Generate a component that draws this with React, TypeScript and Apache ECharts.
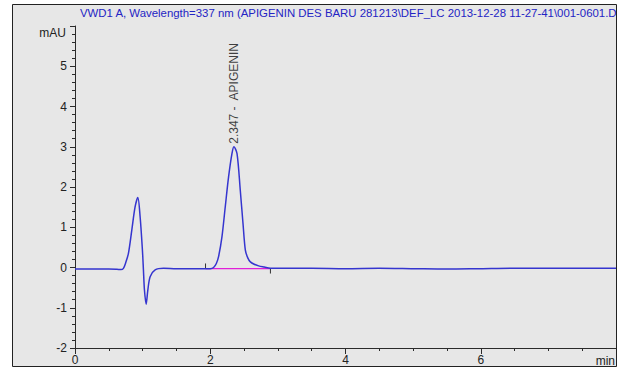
import React, { useEffect, useRef } from "react";
import * as echarts from "echarts";

const titleText =
  "VWD1 A, Wavelength=337 nm (APIGENIN DES BARU 281213\\DEF_LC 2013-12-28 11-27-41\\001-0601.D";
const yUnit = "mAU";
const xUnit = "min";

// retention time (min)
const times = [
  0, 0.25, 0.5, 0.62, 0.68, 0.716, 0.75, 0.79, 0.84, 0.889, 0.929, 0.963, 0.997, 1.012, 1.027,
  1.052, 1.077, 1.111, 1.185, 1.31, 1.5, 1.75, 1.93, 2.0, 2.049, 2.09, 2.123, 2.173, 2.222, 2.271,
  2.321, 2.35, 2.396, 2.444, 2.484, 2.519, 2.555, 2.593, 2.65, 2.716, 2.8, 2.889, 3.0, 3.5, 4.0,
  4.5, 5.0, 5.5, 6.0, 6.5, 7.0, 7.5, 8.0,
];
// detector signal (mAU)
const signal = [
  -0.04, -0.04, -0.04, -0.045, -0.05, -0.02, 0.12, 0.35, 0.93, 1.51, 1.74, 1.26, 0.43, -0.06, -0.56,
  -0.91, -0.56, -0.23, -0.06, -0.02, -0.03, -0.03, -0.03, -0.03, 0.0, 0.1, 0.27, 0.76, 1.51, 2.25,
  2.83, 3.0, 2.83, 1.92, 1.1, 0.43, 0.24, 0.14, 0.08, 0.04, 0.01, -0.02, -0.02, -0.02, -0.03,
  -0.02, -0.03, -0.04, -0.03, -0.02, -0.02, -0.02, -0.02,
];

// integration baseline of the peak
const integStart = 1.93;
const integEnd = 2.89;
const integLevel = -0.03;

// peak annotation
const peakTime = 2.347;
const peakHeight = 3.0;
const peakName = "APIGENIN";

const xMin = 0;
const xMax = 8;
const xInterval = 2;
const yMin = -2;
const yMax = 6;
const yInterval = 1;

export default function App() {
  const ref = useRef<HTMLDivElement>(null);
  useEffect(() => {
    if (!ref.current) return;
    const chart = echarts.init(ref.current, undefined, { renderer: "svg" });
    const font = "Liberation Sans, Arial, sans-serif";
    const axisColor = "#2b2b2b";
    chart.setOption({
      animation: false,
      grid: { left: 75, right: 5, top: 26, bottom: 21, containLabel: false },
      xAxis: {
        type: "value",
        min: xMin,
        max: xMax,
        interval: xInterval,
        axisLine: { show: true, onZero: false, lineStyle: { color: axisColor, width: 1 } },
        axisTick: { show: true, length: 6, lineStyle: { color: axisColor } },
        minorTick: { show: true, splitNumber: 4, length: 3, lineStyle: { color: axisColor } },
        splitLine: { show: false },
        axisLabel: {
          margin: 6,
          color: "#222",
          fontFamily: font,
          fontSize: 12,
          formatter: (v: number) => (v === xMax ? "" : String(v)),
        },
      },
      yAxis: {
        type: "value",
        min: yMin,
        max: yMax,
        interval: yInterval,
        axisLine: { show: true, onZero: false, lineStyle: { color: axisColor, width: 1 } },
        axisTick: { show: true, length: 5, lineStyle: { color: axisColor } },
        minorTick: { show: true, splitNumber: 5, length: 3, lineStyle: { color: axisColor } },
        splitLine: { show: false },
        axisLabel: {
          margin: 8,
          color: "#222",
          fontFamily: font,
          fontSize: 12,
          formatter: (v: number) => (v === yMax ? "" : String(v)),
        },
      },
      series: [
        {
          type: "line",
          data: [
            [integStart, integLevel],
            [integEnd, integLevel],
          ],
          symbol: "none",
          lineStyle: { color: "#e020d8", width: 1.3 },
          z: 2,
        },
        {
          type: "line",
          data: [
            [integStart, integLevel],
            [integStart, integLevel + 0.13],
          ],
          symbol: "none",
          lineStyle: { color: "#333", width: 1 },
          z: 3,
        },
        {
          type: "line",
          data: [
            [integEnd, integLevel],
            [integEnd, integLevel - 0.12],
          ],
          symbol: "none",
          lineStyle: { color: "#333", width: 1 },
          z: 3,
        },
        {
          type: "line",
          data: times.map((t, i) => [t, signal[i]]),
          symbol: "none",
          smooth: 0.3,
          lineStyle: { color: "#3535cf", width: 1.5 },
          z: 4,
        },
        {
          type: "scatter",
          data: [[peakTime, peakHeight]],
          symbolSize: 0,
          silent: true,
          label: {
            show: true,
            position: "top",
            distance: 3,
            rotate: 90,
            align: "left",
            verticalAlign: "middle",
            formatter: `${peakTime.toFixed(3)} -  ${peakName}`,
            color: "#111",
            fontFamily: font,
            fontSize: 12,
          },
          z: 5,
        },
      ],
      graphic: {
        elements: [
          {
            type: "rect",
            shape: { x: 12.5, y: 4.5, width: 604, height: 362 },
            style: { fill: "#e7e7e7", stroke: "none" },
            z: -100,
            silent: true,
          },
          {
            type: "text",
            x: 80,
            y: 13,
            style: {
              text: titleText,
              fill: "#2424c4",
              fontFamily: font,
              fontSize: 11.4,
              verticalAlign: "middle",
              align: "left",
            },
            z: 50,
            silent: true,
          },
          {
            type: "text",
            x: 66,
            y: 33,
            style: {
              text: yUnit,
              fill: "#222",
              fontFamily: font,
              fontSize: 12,
              verticalAlign: "middle",
              align: "right",
            },
            z: 50,
            silent: true,
          },
          {
            type: "text",
            x: 615,
            y: 361,
            style: {
              text: xUnit,
              fill: "#222",
              fontFamily: font,
              fontSize: 12,
              verticalAlign: "middle",
              align: "right",
            },
            z: 50,
            silent: true,
          },
          {
            type: "rect",
            shape: { x: 12.5, y: 4.5, width: 604, height: 362 },
            style: { fill: "none", stroke: "#222", lineWidth: 1 },
            z: 100,
            silent: true,
          },
        ],
      },
    });
    return () => chart.dispose();
  }, []);
  return (
    <div
      ref={ref}
      style={{ position: "fixed", left: 0, top: 0, width: 621, height: 369, background: "#fff" }}
    />
  );
}
